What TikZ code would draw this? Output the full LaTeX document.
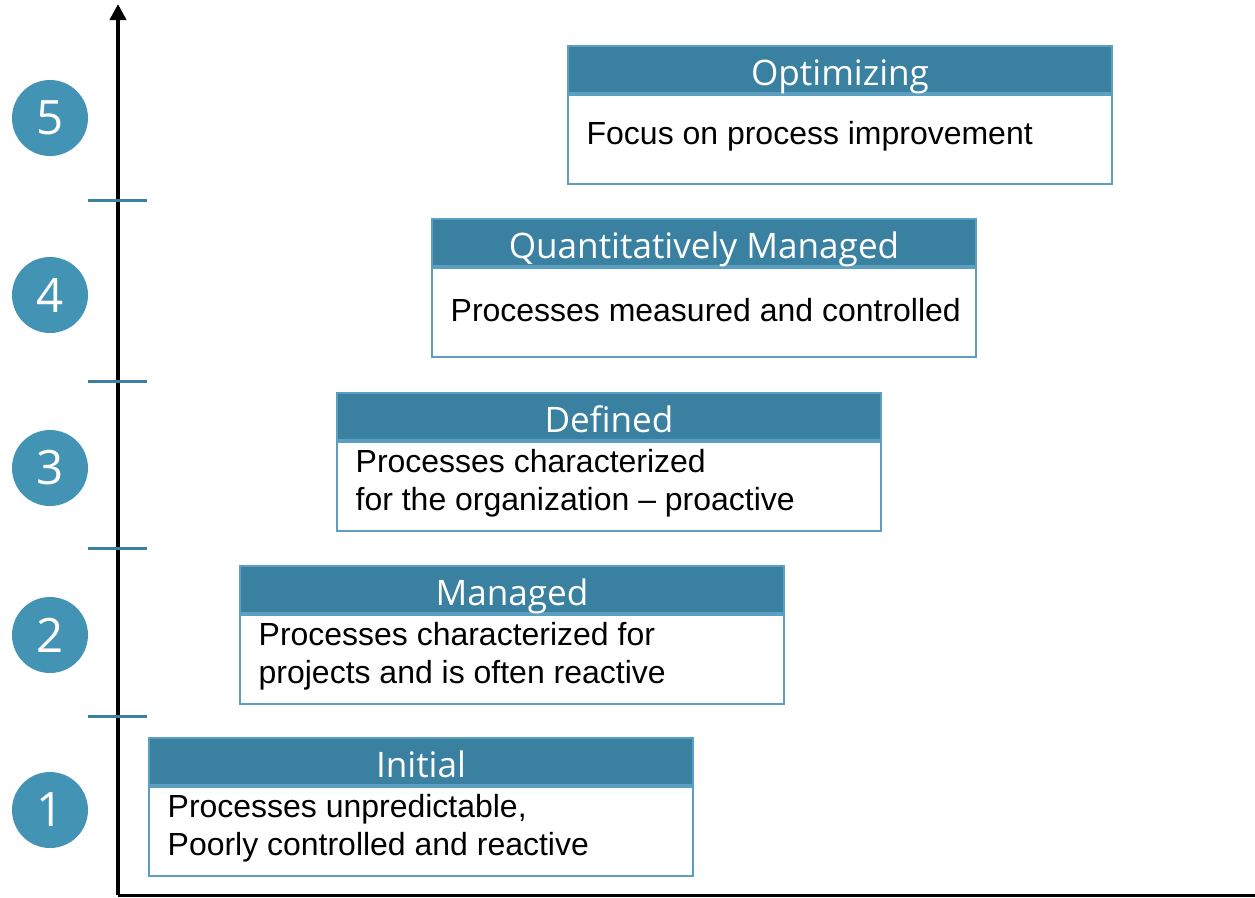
\documentclass[tikz,border=0pt]{standalone}
\usepackage{fontspec}
\setmainfont{Liberation Sans}
\newfontfamily\headfont{Open Sans}
\usepackage{tikz}
\usetikzlibrary{arrows.meta}

\definecolor{headblue}{HTML}{3A80A1}
\definecolor{dotblue}{HTML}{4393B4}
\definecolor{edgeblue}{HTML}{5A9EC0}

\begin{document}
\begin{tikzpicture}[x=0.02cm, y=-0.02cm,
  head/.style={draw=edgeblue, fill=headblue, line width=1.2, text=white,
    minimum width=10.88cm, minimum height=0.94cm, inner sep=0,
    text height=17.6pt, text depth=0pt,
    font=\headfont\fontsize{20}{24}\selectfont},
  body/.style={draw=edgeblue, fill=white, line width=1.2,
    minimum width=10.88cm, minimum height=1.78cm, inner sep=0},
  txt/.style={anchor=west, align=left, inner sep=0,
    font=\fontsize{18.2}{21.6}\selectfont},
  lvl/.style={circle, fill=dotblue, text=white, minimum size=1.52cm, inner sep=0,
    font=\headfont\fontsize{27}{30}\selectfont},
  tick/.style={draw=headblue, line width=1.7}]
\useasboundingbox (0,0) rectangle (1255,897);

% axes
\coordinate (origin) at (118,895);
\coordinate (ytop) at (118,4);
\coordinate (xend) at (1255,895);
\draw[line width=1.7] (origin) -- (xend);
\draw[-{Triangle[length=0.32cm, width=0.32cm]}, line width=2.2] (origin) -- (ytop);

% level separators
\draw[tick] (88,200) -- (147,200);
\draw[tick] (88,381) -- (147,381);
\draw[tick] (88,548) -- (147,548);
\draw[tick] (88,716) -- (147,716);

% level numbers
\node[lvl] (c5) at (50,118) {5};
\node[lvl] (c4) at (50,295) {4};
\node[lvl] (c3) at (50,468) {3};
\node[lvl] (c2) at (50,635) {2};
\node[lvl] (c1) at (50,810) {1};

% Optimizing
\node[head, anchor=north west] (optimizing) at (567,45) {Optimizing};
\node[body, anchor=north] (optimizing body) at (optimizing.south) {};
\node[txt] (optimizing text) at ([xshift=11pt, yshift=1.7pt]optimizing body.west) {Focus on process improvement};

% Quantitatively Managed
\node[head, anchor=north west] (quantitative) at (431,218) {Quantitatively Managed};
\node[body, anchor=north] (quantitative body) at (quantitative.south) {};
\node[txt] (quantitative text) at ([xshift=11pt, yshift=1.7pt]quantitative body.west) {Processes measured and controlled};

% Defined
\node[head, anchor=north west] (defined) at (336,392) {Defined};
\node[body, anchor=north] (defined body) at (defined.south) {};
\node[txt] (defined text) at ([xshift=11pt, yshift=1.7pt]defined body.west) {Processes characterized\\for the organization -- proactive};

% Managed
\node[head, anchor=north west] (managed) at (239,565) {Managed};
\node[body, anchor=north] (managed body) at (managed.south) {};
\node[txt] (managed text) at ([xshift=11pt, yshift=1.7pt]managed body.west) {Processes characterized for\\projects and is often reactive};

% Initial
\node[head, anchor=north west] (initial) at (148,737) {Initial};
\node[body, anchor=north] (initial body) at (initial.south) {};
\node[txt] (initial text) at ([xshift=11pt, yshift=1.7pt]initial body.west) {Processes unpredictable,\\Poorly controlled and reactive};

\end{tikzpicture}
\end{document}
